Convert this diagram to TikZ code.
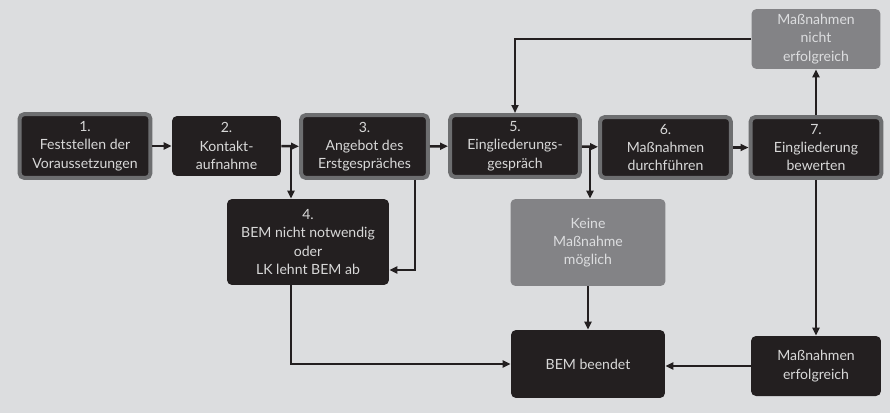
\documentclass[tikz,border=0pt]{standalone}
\usepackage{fontspec}
\setmainfont{Lato}
\usetikzlibrary{arrows.meta}

\definecolor{bemdark}{HTML}{231F20}
\definecolor{bemrim}{HTML}{6D6E70}
\definecolor{bemgrey}{HTML}{838386}
\definecolor{bemback}{HTML}{DCDDDF}
\definecolor{bemtext}{HTML}{D8D8D8}

\tikzset{
  box/.style={fill=bemdark, rounded corners=0.1cm, text=bemtext, align=center,
    font=\fontsize{8}{10.4}\selectfont, inner sep=0pt},
  framed/.style={box, draw=bemrim, line width=0.08cm},
  greybox/.style={box, fill=bemgrey, text=bemback},
  conn/.style={draw=bemdark, line width=0.05cm, -{Triangle[length=0.16cm,width=0.14cm]}},
}

\begin{document}
\begin{tikzpicture}[x=0.02cm, y=-0.02cm]
	\fill[bemback] (0,0) rectangle (890,413);
	\useasboundingbox (0,0) rectangle (890,413);
	% top row
	\node[framed, minimum width=2.62cm, minimum height=1.28cm] (n1) at (85,146) {1.\\Feststellen der\\Voraussetzungen};
	\node[box, minimum width=2.18cm, minimum height=1.2cm] (n2) at (226.5,146) {2.\\Kontakt-\\aufnahme};
	\node[framed, minimum width=2.54cm, minimum height=1.26cm] (n3) at (364.5,146.5) {3.\\Angebot des\\Erstgespräches};
	\node[framed, minimum width=2.6cm, minimum height=1.24cm] (n5) at (515,146) {5.\\Eingliederungs-\\gespräch};
	\node[framed, minimum width=2.62cm, minimum height=1.22cm] (n6) at (665.5,147.5) {6.\\Maßnahmen\\durchführen};
	\node[framed, minimum width=2.62cm, minimum height=1.22cm] (n7) at (816,147.5) {7.\\Eingliederung\\bewerten};
	% side boxes
	\node[greybox, minimum width=2.58cm, minimum height=1.2cm] (nicht) at (816,39) {Maßnahmen\\nicht\\erfolgreich};
	\node[box, minimum width=3.24cm, minimum height=1.72cm] (n4) at (308,242) {4.\\BEM nicht notwendig\\oder\\LK lehnt BEM ab};
	\node[greybox, minimum width=3.1cm, minimum height=1.74cm] (keine) at (588,242.5) {Keine\\Maßnahme\\möglich};
	\node[box, minimum width=3.08cm, minimum height=1.36cm] (ende) at (588,364) {BEM beendet};
	\node[box, minimum width=2.6cm, minimum height=1.2cm] (erfolg) at (816,366) {Maßnahmen\\erfolgreich};
	% branch points
	\coordinate (b2) at (291,146);
	\coordinate (b5) at (590,146);
	\coordinate (c3) at (415,270);
	% connectors
	\draw[conn] (n1) -- (n2);
	\draw[conn] (n2) -- (n3);
	\draw[conn] (b2) -- (b2 |- n4.north);
	\draw[conn] (n3) -- (n5);
	\draw[conn] (n5) -- (n6);
	\draw[conn] (b5) -- (b5 |- keine.north);
	\draw[conn] (n6) -- (n7);
	\draw[conn] (n7) -- (nicht);
	\draw[conn] (nicht.west) -| (n5);
	\draw[conn] (n3.south -| c3) |- (n4.east |- c3);
	\draw[conn] (n4.south -| b2) |- (ende);
	\draw[conn] (keine) -- (ende);
	\draw[conn] (n7) -- (erfolg);
	\draw[conn] (erfolg.west) -- (erfolg.west -| ende.east);
\end{tikzpicture}
\end{document}
